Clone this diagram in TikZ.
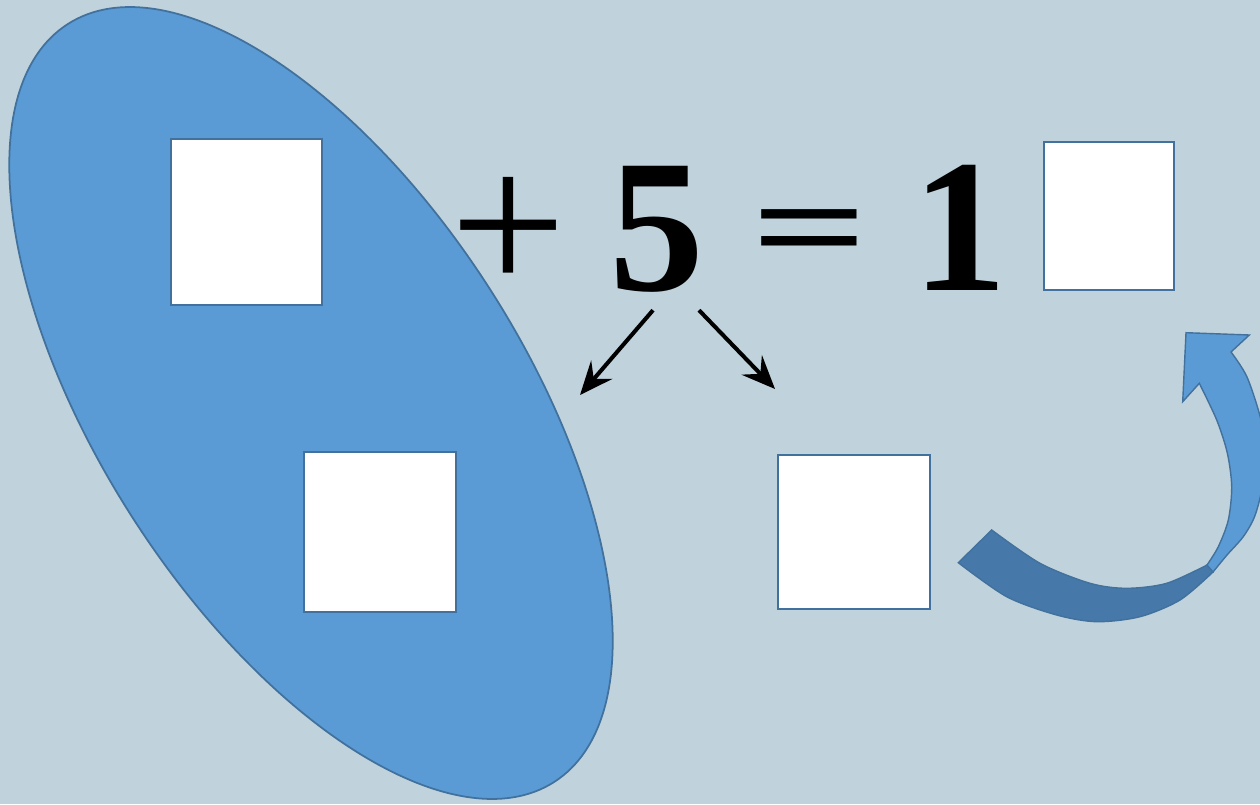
\documentclass[tikz,border=0pt]{standalone}
\usepackage{fontspec}
\setmainfont{Liberation Serif}
\usepackage{xcolor}
\usepackage{graphicx}
\usetikzlibrary{arrows.meta,positioning,calc}
\definecolor{bgcol}{HTML}{C0D3DC}
\definecolor{ovalblue}{HTML}{5B9BD5}
\definecolor{edgeblue}{HTML}{41719C}
\definecolor{darkband}{HTML}{4679AA}

\begin{document}
\begin{tikzpicture}[
    x=0.02cm, y=-0.02cm,
    sqbox/.style={rectangle, draw=edgeblue, fill=white, line width=1pt, inner sep=0pt},
    num/.style={inner sep=0pt, anchor=base, font=\fontsize{108}{108}\selectfont\bfseries},
    sign/.style={inner sep=0pt, anchor=center, font=\fontsize{117}{117}\selectfont},
    arr/.style={-{Stealth[length=19pt, width=16pt, inset=7pt]}, line width=2.3pt, draw=black}
]
    \fill[bgcol] (0,0) rectangle (1260,804);
    \useasboundingbox (0,0) rectangle (1260,804);
    \clip (0,0) rectangle (1260,804);

    % oval
    \filldraw[fill=ovalblue, draw=edgeblue, line width=1pt, shift={(311,403)}, rotate=-57.3] (0,0) ellipse [x radius=450.3, y radius=212.1];

    \node [sqbox, minimum width=3.02cm, minimum height=3.32cm] (boxa) at (246.5,222) {};
    \node [sqbox, minimum width=3.04cm, minimum height=3.2cm] (boxb) at (380,532) {};
    \node [sqbox, minimum width=3.04cm, minimum height=3.08cm] (boxc) at (854,532) {};
    \node [sqbox, minimum width=2.6cm, minimum height=2.96cm] (boxd) at (1109,216) {};

    \node [sign] (plus) at (508.5,235) {+};
    \node [num] (five) at (657,290) {5};
    \node [num] (eq) at (810,272) {\scalebox{1.08}[0.71]{=}};
    \node [num] (one) at (960,290) {1};

    \coordinate (lefttip) at (580,395);
    \coordinate (righttip) at (775,389);
    \draw [arr] ([shift={(-4,18)}]five.south) -- (lefttip);
    \draw [arr] ([shift={(42,18)}]five.south) -- (righttip);

    % curved arrow
    \filldraw [fill=darkband, draw=edgeblue, line width=0.8pt] plot[smooth] coordinates {(991.7,530) (1040,563.3) (1090,583.3) (1126.7,588.3) (1166.7,583.3) (1207,565)} -- (1213,572) -- plot[smooth] coordinates {(1213,572) (1180,600) (1140,616.7) (1096.7,621.7) (1056.7,615) (1006.7,596.7) (958.3,562.7)} -- cycle;
    \filldraw [fill=ovalblue, draw=edgeblue, line width=0.8pt] (1207,565) -- (1213,572) -- plot[smooth] coordinates {(1213,572) (1227,555) (1243,537) (1254,518) (1261,493) (1265,455) (1261,420) (1247,377) (1231,352)} -- (1249.3,335) -- (1186,332.7) -- (1182.7,401.7) -- (1199.3,383.3) -- plot[smooth] coordinates {(1199.3,383.3) (1216.7,420) (1227.3,453) (1231.7,486.7) (1228.3,520) (1218.3,546.7) (1207,565)} -- cycle;
\end{tikzpicture}
\end{document}
